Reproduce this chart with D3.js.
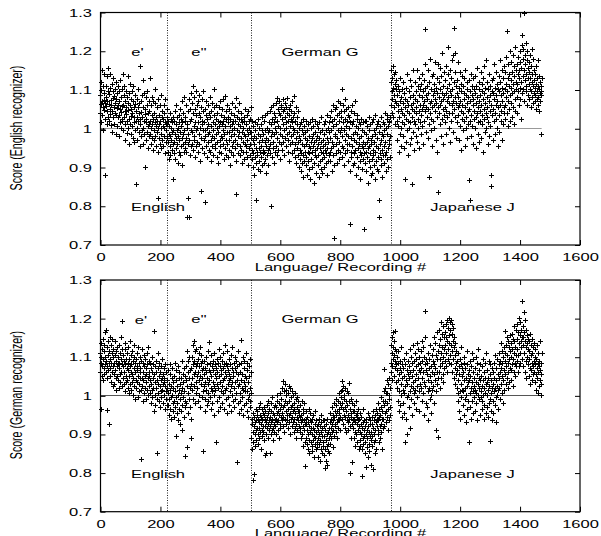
<!DOCTYPE html>
<html>
<head>
<meta charset="utf-8">
<script src="https://cdn.jsdelivr.net/npm/d3@7/dist/d3.min.js"></script>
<style>
    body { margin: 0; background: #fff; }
    text { font-family: "Liberation Sans", Arial, sans-serif; fill: #000; }
</style>
</head>
<body>
<script>
// recordings are numbered in order: English e', English e'', German G, Japanese J
var segStart = [0, 225, 505, 970];
var dividers = [225, 505, 970];
var xTicks = [0, 200, 400, 600, 800, 1000, 1200, 1400, 1600];
var yTicks = [0.7, 0.8, 0.9, 1.0, 1.1, 1.2, 1.3];

// score offsets from 1.0, in thousandths, one per recording (English recognizer)
var enRecE1 = [
    85,40,120,62,15,98,150,70,33,55,108,-5,72,140,48,
    90,25,65,-120,110,58,80,12,135,44,70,96,30,155,62,
    20,88,50,105,38,140,8,72,60,115,45,-10,95,30,78,
    130,55,10,82,40,100,65,-15,120,35,75,5,90,52,28,
    110,60,-20,70,35,95,15,125,50,0,80,42,18,100,58,
    25,140,60,-5,85,30,108,45,-30,70,12,95,38,55,-12,
    80,20,65,135,0,48,90,25,-40,60,10,115,32,75,-15,
    50,95,5,40,-25,70,110,15,55,-35,30,85,-5,62,20,
    -145,45,0,75,30,-30,100,18,55,-10,65,40,-45,25,160,
    10,70,-20,42,85,-5,30,125,0,55,-40,20,90,-15,38,
    -100,50,15,80,-30,25,60,-10,95,5,40,-50,70,10,-20,
    45,-15,130,20,-40,60,0,35,-25,80,12,-55,25,70,-5,
    40,-30,15,65,-20,100,5,-45,30,55,-10,20,-60,75,0,
    -180,35,-25,10,60,-40,20,-15,85,0,-50,30,45,-30,5,
    25,-45,60,0,-20,40,-65,15,75,-35,10,-5,50,-25,30
];
var enRecE2 = [
    10,-60,-35,20,-80,-15,5,-45,40,-20,-70,0,-30,25,-55,-10,15,-130,-40,30,
    -5,-65,20,-35,45,-15,-80,10,-25,60,-50,-5,30,-40,-90,0,-20,35,-60,15,
    -30,50,-10,-70,25,-45,5,70,-25,-95,15,-40,40,-15,-60,80,-5,-35,20,-50,
    30,-25,60,-60,0,-228,10,-180,45,-40,-15,75,-228,-30,20,-70,50,-5,-45,90,
    25,-40,65,-10,40,-55,110,5,-30,80,-20,50,-75,15,95,-5,35,-45,60,0,
    -35,70,15,-60,40,-15,85,-40,0,-85,30,-162,55,-25,10,75,-50,20,-5,45,
    96,-30,15,-65,50,-5,-20,-190,35,-45,70,0,-75,25,-15,60,-35,10,-55,40,
    -10,-60,30,80,-30,5,-85,45,-20,65,-45,15,-5,-70,35,-25,100,55,-40,10,
    -50,25,-15,60,-75,0,40,-35,-90,20,-10,55,-60,5,-30,70,-45,15,-20,35,
    -65,10,50,-25,-5,75,-40,20,-80,30,-15,83,-50,5,45,-30,-70,25,-10,60,
    -40,15,-75,30,-10,-55,50,-30,5,-95,25,-20,40,-60,-5,65,-45,10,-35,20,
    -70,35,-15,0,-50,20,-30,55,-85,77,-170,-5,30,-40,10,-65,45,-20,-10,25,
    64,-45,5,-70,25,-25,-55,40,-10,-90,15,-35,0,-60,30,-15,-80,20,-40,50,
    -20,-60,10,-45,35,-75,-5,-30,45,-95,-15,20,-50,0,-70,25,-40,-10,55,-25
];
var enRecGer = [
    -10,-80,20,-55,-30,-100,5,-65,-20,-120,-40,15,-75,-5,-50,-90,-185,-25,-60,10,
    -70,-15,-105,25,-50,-35,-85,0,-60,-20,-110,10,-45,-75,-5,-95,-30,30,-55,-65,
    -15,-90,20,-60,-35,-5,-80,35,-45,-25,-115,0,-70,40,-30,-55,-10,-95,15,-50,
    -5,-65,45,-40,10,-200,-20,55,-75,-10,25,-50,60,-35,-90,15,-15,40,-60,0,
    30,-45,65,-10,-70,20,77,-25,50,-55,5,40,-35,70,-15,-80,35,0,55,-40,
    60,-20,25,-55,45,10,-35,75,-5,50,-70,30,65,-25,15,-45,55,0,40,-15,
    77,-30,20,-60,50,-10,35,-85,60,5,-40,25,-20,45,-65,15,70,-35,0,30,
    -15,40,-55,83,-5,-75,20,-40,55,-25,-90,10,-50,30,-10,-70,45,-35,0,-100,
    -20,-80,10,-55,-30,-110,15,-65,-5,-90,-40,25,-70,-15,-125,-45,5,-85,-25,-60,
    -10,-95,-40,20,-75,-30,-120,-5,-60,-85,10,-45,-105,-20,-65,15,-50,-130,-35,0,
    -80,-25,25,-60,-100,-15,-45,5,-90,-35,-140,-10,-70,20,-55,-115,-30,-75,10,-50,
    -20,-95,-40,0,-70,-125,-25,15,-85,-50,-10,-105,-60,30,-35,-80,-5,-115,-45,-65,
    -30,10,-75,-15,-100,-55,20,-40,-90,-5,-65,35,-120,-25,-50,0,-85,-35,15,-70,
    -10,-60,30,-85,-25,45,-50,-5,-110,20,-35,60,-70,5,-45,-282,25,-95,-20,50,
    -15,-65,55,-40,10,-90,35,-25,70,-55,-5,40,-80,20,-35,65,-10,-60,45,0,
    30,-45,100,-20,-75,15,60,-50,-5,45,-95,25,-30,75,-65,5,-15,50,-40,20,
    -55,35,-20,55,-85,0,-40,30,-110,-248,15,-60,45,-25,-75,10,-45,60,-15,-95,
    20,-65,-30,40,-90,-10,70,-55,5,-120,-35,25,-75,-15,35,-50,-100,0,-40,15,
    -25,-85,10,-60,-130,-20,25,-70,-45,-5,-105,-35,15,-80,-50,-10,-261,-65,20,-40,
    -90,-15,-60,20,-110,-35,-75,5,-50,-140,-25,30,-85,-45,-5,-100,-65,10,-30,-120,
    -40,15,-80,-20,-115,-55,25,-70,-5,-95,-35,35,-130,-60,-15,-85,0,-45,-105,10,
    -25,-75,20,-50,-110,-10,-230,-184,-65,5,-40,-95,30,-30,-80,-15,-125,-55,15,-70,
    -20,-90,10,-45,-5,-70,40,-35,-110,0,-60,25,-80,-15,35,-50,-100,5,-30,20,
    -40,15,-75,30,-20
];
var enRecJap = [
    120,60,150,95,40,130,75,160,105,30,140,85,55,115,70,145,10,100,65,125,
    20,85,-30,60,110,5,45,-60,95,30,70,-15,130,50,0,80,-45,40,100,15,
    65,-20,120,35,-50,90,10,55,-132,75,25,-35,105,45,-5,70,140,20,-70,60,
    95,0,40,-40,80,125,15,60,-25,110,50,-143,30,85,-10,65,150,20,45,-55,
    75,10,120,40,-20,95,55,150,-35,70,25,110,0,85,45,130,-50,60,100,15,
    35,115,-15,80,50,140,5,95,60,-40,125,70,20,105,45,165,255,-10,85,55,
    110,30,75,-25,150,50,90,10,-126,120,65,180,40,-5,100,70,25,135,55,-45,
    85,140,20,95,60,115,0,75,170,45,-30,105,65,130,30,90,-60,55,165,-165,
    120,40,80,155,10,100,60,-20,135,70,195,25,90,50,110,-40,75,145,35,85,
    55,125,15,90,160,45,-15,105,70,30,140,80,210,0,65,115,40,95,-35,150,
    20,85,130,60,175,40,100,-10,70,190,260,50,120,195,80,30,145,65,110,-25,
    90,15,125,55,170,35,80,-30,105,60,145,5,70,115,45,-55,95,25,135,60,
    40,110,-5,75,130,20,90,-45,55,150,30,85,0,120,65,-25,100,45,10,80,
    125,-134,50,-184,95,20,70,140,35,-20,85,110,5,60,130,-40,75,25,100,45,
    0,90,135,30,65,-50,110,40,80,155,15,55,-15,100,70,120,-35,45,85,20,
    145,60,-25,95,35,115,10,75,-60,130,50,160,25,90,-10,65,105,40,175,0,
    80,30,120,55,-40,100,15,70,140,-20,85,45,110,5,-121,-150,60,95,35,125,
    50,-30,90,130,20,75,165,40,105,-15,60,145,25,85,0,115,70,-45,100,55,
    135,35,95,-10,120,60,175,20,85,45,150,105,-30,70,130,10,90,55,160,40,
    100,60,145,25,115,80,185,40,250,95,130,5,70,165,110,50,140,85,200,20,
    125,65,170,105,30,145,90,190,55,115,160,10,95,135,75,210,45,120,100,150,
    80,165,115,40,140,95,185,130,60,150,105,200,75,170,120,25,155,90,215,240,
    135,180,100,205,298,150,70,190,125,165,95,220,140,110,175,60,200,130,155,85,
    115,170,75,145,100,190,130,55,160,95,120,205,80,140,110,180,65,125,150,90,
    105,70,140,85,115,50,160,95,75,130,60,110,175,80,100,45,135,90,120,70,
    85,110,-15,95,130
];

// score offsets from 1.0, in thousandths, one per recording (German recognizer)
var deRecE1 = [
    110,60,135,-35,85,100,50,120,75,145,95,40,115,70,130,
    55,100,80,165,60,170,90,45,125,75,-37,105,65,140,85,
    -73,115,50,95,150,70,130,35,85,110,60,145,75,25,100,
    120,55,85,30,105,65,140,45,90,15,115,75,50,125,80,
    40,100,70,130,20,85,55,110,35,95,150,60,80,25,120,
    192,75,45,105,30,90,60,120,10,80,135,50,95,35,70,
    110,40,85,20,125,65,5,95,50,140,30,75,60,105,15,
    80,35,115,55,0,90,45,130,25,70,100,-10,60,85,40,
    95,20,65,110,35,75,-5,50,125,30,85,10,60,100,45,
    70,15,-166,90,45,120,25,60,-15,85,40,105,5,75,50,
    20,95,55,-10,70,35,110,15,80,45,0,125,60,25,90,
    50,5,85,40,-20,70,30,100,15,60,-5,45,80,20,-40,
    166,55,0,75,35,-25,90,20,60,-148,40,-10,110,30,70,
    5,50,-15,85,25,60,-30,40,10,75,-5,45,95,15,30,
    55,-20,35,70,0,45,-35,25,80,10,60,-10,40,20,-25
];
var deRecE2 = [
    40,-25,65,5,-50,30,-10,80,15,-35,55,-5,25,-60,45,0,70,-20,35,-40,
    20,-55,50,-15,85,-30,10,-106,40,-5,65,-45,25,-20,75,0,-65,45,15,-35,
    60,-10,30,-75,45,5,-40,90,-25,20,-90,55,-5,35,-55,70,10,-30,50,-15,
    -158,40,75,-20,25,114,-135,60,5,-45,90,-10,45,100,-30,20,65,-60,30,-110,
    70,15,100,45,130,-10,80,55,140,25,90,-20,60,115,35,75,5,120,50,85,
    20,95,60,-15,110,40,75,0,125,50,-30,85,30,105,-5,65,45,90,10,70,
    -145,55,25,90,-10,70,35,-40,100,15,60,-25,80,45,5,115,30,-15,65,138,
    40,85,-5,60,20,105,-35,50,75,10,-20,90,35,65,-50,25,110,0,55,80,
    15,-120,70,45,-15,95,30,60,-40,85,20,50,120,-5,75,35,-30,100,10,65,
    55,25,90,-20,70,40,5,110,45,-35,80,15,60,130,-10,50,85,20,-45,75,
    114,30,-5,65,40,95,-25,55,10,80,45,-40,105,25,70,0,125,35,60,-15,
    50,85,20,-30,70,35,100,-10,60,5,90,-172,40,75,-20,115,25,55,-45,80,
    30,-15,60,5,143,40,-35,85,20,55,-5,100,15,-50,70,35,-25,90,10,50,
    25,-20,110,45,-40,65,10,85,-10,35,-55,75,0,50,-30,95,20,-15,60,5
];
var deRecGer = [
    -110,-60,-140,-75,-218,-95,-45,-120,-80,-203,-55,-100,-70,-130,-35,-90,-65,-115,-50,-85,
    -40,-100,-60,-125,-30,-85,-70,-110,-50,-95,-20,-75,-140,-55,-90,-35,-105,-65,-80,-45,
    -95,-50,-115,-30,-80,-60,-155,-40,-100,-70,-148,-25,-85,-55,-110,-45,-75,-15,-90,-65,
    -35,-80,-150,-55,-20,-100,-70,-40,-90,-60,-5,-85,-45,-115,-30,-75,-50,-95,-25,-65,
    -80,-30,-60,-100,-15,-70,-45,0,-90,-40,-65,-20,-110,-50,5,-75,-35,-85,-25,-55,
    -10,-65,20,-45,-80,37,-30,-55,10,-95,-25,30,-60,-15,-40,15,-75,0,-50,-20,
    -65,5,-35,-85,25,-50,-15,-70,20,-45,-100,-5,-30,-60,10,-80,-25,-55,0,-40,
    -70,-20,-95,-35,-60,5,-85,-45,-10,-75,-110,-30,-55,-5,-90,-40,-65,-15,-80,-50,
    -40,-95,-55,-25,-85,-110,-50,-70,-15,-100,-60,-130,-35,-80,-45,-90,-65,-20,-120,-75,
    -184,-60,-110,-75,-40,-125,-90,-55,-140,-100,-70,-35,-115,-80,-150,-65,-95,-45,-120,-85,
    -70,-130,-100,-60,-145,-85,-115,-50,-105,-160,-90,-75,-125,-40,-110,-95,-65,-140,-80,-120,
    -135,-75,-110,-160,-90,-60,-125,-100,-170,-80,-115,-50,-140,-95,-70,-150,-105,-85,-130,-65,
    -120,-80,-155,-105,-65,-187,-140,-90,-115,-170,-75,-130,-100,-180,-60,-125,-95,-145,-85,-110,
    -150,-70,-100,-45,-125,-85,-60,-110,-30,-95,-75,-135,-50,-90,-65,-20,-105,-55,-80,-40,
    -75,-25,-95,-50,-10,-70,-40,-110,-60,-15,-85,-35,5,-65,-45,-90,-20,-55,10,-30,
    -5,37,-60,-20,15,-75,-35,25,-50,-10,0,-85,-30,20,-55,-15,-95,-40,10,-65,
    -25,-70,5,-50,-90,-15,-60,33,-35,-80,-200,-45,-10,-110,-55,-20,-75,-173,-40,-65,
    -85,-40,-110,-60,-25,-95,-70,-130,-50,-15,-100,-75,-45,-120,-55,-35,-90,-65,-140,-80,
    -60,-115,-95,-45,-130,-75,-100,-55,-140,-85,-208,-110,-70,-35,-125,-90,-65,-105,-150,-80,
    -120,-70,-100,-185,-60,-135,-90,-110,-45,-160,-80,-125,-95,-55,-145,-75,-105,-65,-115,-180,
    -95,-55,-130,-75,-105,-40,-192,-85,-120,-65,-100,-150,-50,-90,-115,-70,-140,-35,-80,-60,
    -45,-100,-65,-20,-90,-55,-120,-35,-80,-110,-50,-5,-75,-95,-30,-60,-140,-40,-85,-15,
    -60,10,69,-25,-80,-45,20,-15,-70,5,-40,40,-55,-20,5,-90,30,-35,0,-65,
    -10,45,-50,20,-30
];
var deRecJap = [
    60,130,85,150,40,110,75,125,95,165,50,105,140,70,120,166,90,35,115,80,
    100,20,65,-15,85,40,115,-40,55,10,90,-25,70,30,125,0,60,-55,80,45,
    -20,70,15,95,-45,50,5,-122,80,25,-60,110,40,-5,65,-100,30,90,0,55,
    75,-30,45,120,10,-85,60,25,100,-10,50,85,-50,35,130,20,65,-20,90,5,
    40,110,15,75,-35,95,55,135,25,-5,80,45,120,10,65,-40,100,30,85,60,
    115,20,70,140,-15,90,45,125,5,60,100,35,-50,80,150,218,25,65,-20,95,
    55,-30,85,10,110,40,-65,70,20,95,-10,50,130,0,75,-45,35,105,15,60,
    90,25,120,55,150,-20,80,40,135,70,10,105,-90,60,165,30,95,-108,45,115,
    130,60,170,95,20,145,75,190,110,45,160,85,125,35,180,100,55,150,70,120,
    90,165,130,185,75,150,110,196,140,60,175,120,95,200,155,85,135,190,105,170,
    196,130,80,160,115,185,60,140,95,175,45,125,150,70,105,30,135,85,115,55,
    90,20,65,-15,110,40,5,75,-40,55,95,10,-60,80,30,125,-5,50,15,70,
    -25,60,10,85,-50,40,100,-10,20,70,-70,45,0,115,25,-35,80,55,-15,35,
    65,-122,40,5,90,-30,50,20,-60,75,110,-15,35,60,-45,10,95,25,-5,45,
    15,70,-40,35,100,5,-20,55,85,-65,30,0,120,45,-10,65,20,-50,80,40,
    -5,50,10,-35,75,25,-15,95,0,40,-60,60,20,-25,85,5,45,-45,30,110,
    35,-30,65,0,-55,45,15,90,-20,25,-119,55,-10,80,5,-40,40,70,-65,20,
    -15,60,30,-45,85,10,45,-25,105,20,-5,70,-70,40,0,95,25,-35,55,15,
    80,20,110,45,-10,90,60,135,30,70,5,115,50,85,-20,100,40,125,65,15,
    110,55,166,90,30,130,75,150,45,105,20,140,85,60,125,35,95,155,70,115,
    65,135,100,40,160,80,120,25,145,95,180,60,110,140,50,125,85,170,105,75,
    145,90,185,120,60,165,105,200,135,75,155,110,190,85,140,125,170,95,150,244,
    130,180,75,150,215,110,165,60,140,195,90,125,170,45,135,100,155,80,120,145,
    95,140,50,115,70,160,30,105,130,65,85,145,40,110,75,125,55,90,135,60,
    100,35,80,120,55,15,95,70,130,45,85,5,110,60,25,90,75,140,40,65,
    30,85,0,55,110
];

var width = 601;
var height = 536;
var stretch = 1.5; // the lettering in the original is wide

var svg = d3.select("body")
    .append("svg")
    .attr("width", width)
    .attr("height", height);

var x = d3.scaleLinear().domain([0, 1600]).range([100.5, 580]);

function toPoints(series) {
    var pts = [];
    series.forEach(function (arr, s) {
        arr.forEach(function (v, i) {
            pts.push({ rec: segStart[s] + i, score: 1 + v / 1000 });
        });
    });
    return pts;
}

function wideText(g, px, py, str, anchor, size) {
    g.append("text")
        .attr("transform", "translate(" + px + "," + py + ") scale(" + stretch + ",1)")
        .attr("text-anchor", anchor || "middle")
        .style("font-size", (size || 11) + "px")
        .text(str);
}

// snap to pixel centres so the 1px crosses stay sharp
function snap(v) {
    return Math.round(v - 0.5) + 0.5;
}

function drawPanel(cfg) {
    var y = d3.scaleLinear().domain([0.7, 1.3]).range([cfg.bottom, cfg.top]);
    var g = svg.append("g");
    var fmt = function (d) { return String(+d.toFixed(1)); };

    // dotted language boundaries
    g.selectAll("line.div")
        .data(dividers)
        .enter()
        .append("line")
        .attr("class", "div")
        .attr("x1", function (d) { return snap(x(d)); })
        .attr("x2", function (d) { return snap(x(d)); })
        .attr("y1", cfg.top)
        .attr("y2", cfg.bottom)
        .style("stroke", "#222")
        .style("stroke-width", 1)
        .style("stroke-dasharray", "1,1.5");

    // reference line at score 1
    g.append("line")
        .attr("x1", x(0))
        .attr("x2", x(1472))
        .attr("y1", snap(y(1)))
        .attr("y2", snap(y(1)))
        .style("stroke", cfg.refColor)
        .style("stroke-width", 1.2);

    // points
    var pts = toPoints(cfg.series);
    g.selectAll("path.pt")
        .data(pts)
        .enter()
        .append("path")
        .attr("class", "pt")
        .attr("transform", function (d) {
            return "translate(" + snap(x(d.rec)) + "," + snap(y(d.score)) + ")";
        })
        .attr("d", "M-2.5,0H2.5M0,-2.5V2.5")
        .style("stroke", "#000")
        .style("stroke-width", 1)
        .style("fill", "none");

    // axes
    var xb = g.append("g")
        .attr("transform", "translate(0," + cfg.bottom + ")")
        .call(d3.axisBottom(x).tickValues(xTicks).tickFormat(d3.format("d"))
            .tickSize(-5).tickSizeOuter(0).tickPadding(8));
    var yl = g.append("g")
        .attr("transform", "translate(" + x(0) + ",0)")
        .call(d3.axisLeft(y).tickValues(yTicks).tickFormat(fmt)
            .tickSize(-5).tickSizeOuter(0).tickPadding(8.5));
    g.append("g")
        .attr("transform", "translate(0," + cfg.top + ")")
        .call(d3.axisTop(x).tickValues(xTicks).tickFormat("").tickSize(-5).tickSizeOuter(0));
    g.append("g")
        .attr("transform", "translate(" + x(1600) + ",0)")
        .call(d3.axisRight(y).tickValues(yTicks).tickFormat("").tickSize(-5).tickSizeOuter(0));
    g.selectAll(".domain").remove();
    g.selectAll(".tick line").style("stroke", "#000");

    xb.selectAll("text")
        .style("font-size", "11px")
        .style("font-family", "Liberation Sans, Arial, sans-serif")
        .attr("transform", function () {
            return "translate(0," + d3.select(this).attr("y") + ") scale(" + stretch + ",1)";
        })
        .attr("y", 0);
    yl.selectAll("text")
        .style("font-size", "11px")
        .style("font-family", "Liberation Sans, Arial, sans-serif")
        .attr("transform", function () {
            return "translate(" + d3.select(this).attr("x") + ",0) scale(" + stretch + ",1)";
        })
        .attr("x", 0);

    // frame
    g.append("rect")
        .attr("x", x(0))
        .attr("y", cfg.top)
        .attr("width", x(1600) - x(0))
        .attr("height", cfg.bottom - cfg.top)
        .style("fill", "none")
        .style("stroke", "#000")
        .style("stroke-width", 1.2);

    // labels inside the plot
    wideText(g, cfg.lab.e1[0], cfg.lab.e1[1], "e'");
    wideText(g, cfg.lab.e2[0], cfg.lab.e2[1], "e''");
    wideText(g, cfg.lab.ger[0], cfg.lab.ger[1], "German G");
    wideText(g, cfg.lab.eng[0], cfg.lab.eng[1], "English");
    wideText(g, cfg.lab.jap[0], cfg.lab.jap[1], "Japanese J");

    // axis titles
    wideText(g, 340.5, cfg.xTitleY, "Language/ Recording #");
    g.append("text")
        .attr("transform", "translate(22," + cfg.yTitleY + ") rotate(-90) scale(1," + stretch + ")")
        .attr("text-anchor", "middle")
        .style("font-size", "10.6px")
        .text(cfg.yTitle);
}

drawPanel({
    top: 12.5,
    bottom: 245,
    series: [enRecE1, enRecE2, enRecGer, enRecJap],
    refColor: "#999",
    yTitle: "Score (English recognizer)",
    yTitleY: 128,
    xTitleY: 271,
    lab: { e1: [137.5, 56], e2: [199, 56], ger: [320, 56], eng: [158, 211], jap: [472.5, 211] }
});

drawPanel({
    top: 280,
    bottom: 511.7,
    series: [deRecE1, deRecE2, deRecGer, deRecJap],
    refColor: "#555",
    yTitle: "Score (German recognizer)",
    yTitleY: 395,
    xTitleY: 536.5,
    lab: { e1: [141, 323.5], e2: [199, 322.5], ger: [320, 322.5], eng: [158, 478], jap: [472.5, 478] }
});
</script>
</body>
</html>
